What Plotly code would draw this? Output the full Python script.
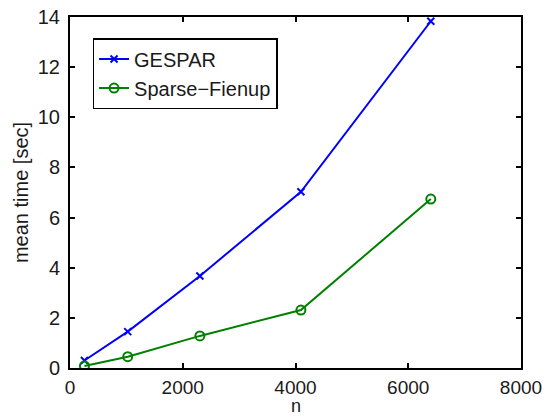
import plotly.graph_objects as go

n_values = [256, 1024, 2304, 4096, 6400]
gespar_time = [0.3, 1.45, 3.67, 7.03, 13.83]
fienup_time = [0.08, 0.45, 1.28, 2.31, 6.74]

font_family = "Liberation Sans, Arial, sans-serif"
txt = "#1a1a1a"

fig = go.Figure()
fig.add_trace(go.Scatter(
    x=n_values, y=gespar_time, mode="lines+markers", name="GESPAR",
    line=dict(color="rgb(0,0,255)", width=2),
    marker=dict(symbol="x-thin-open", size=7, color="rgb(0,0,255)",
                line=dict(color="rgb(0,0,255)", width=2)),
))
fig.add_trace(go.Scatter(
    x=n_values, y=fienup_time, mode="lines+markers", name="Sparse\u2212Fienup",
    line=dict(color="rgb(0,128,0)", width=2),
    marker=dict(symbol="circle-open", size=9, color="rgb(0,128,0)",
                line=dict(color="rgb(0,128,0)", width=2)),
))

axis_common = dict(
    showline=True, linecolor="black", linewidth=2, mirror="ticks",
    ticks="inside", ticklen=5, tickwidth=1.5, tickcolor="black",
    showgrid=False, zeroline=False, automargin=False,
    tickfont=dict(family=font_family, size=20, color=txt),
)

plot_h = 417 - 17 - 49

fig.update_layout(
    width=553, height=417,
    margin=dict(l=70, r=32, t=17, b=49),
    paper_bgcolor="white", plot_bgcolor="white",
    showlegend=True,
    legend=dict(
        x=0.05, y=0.94, xanchor="left", yanchor="top",
        bgcolor="white", bordercolor="black", borderwidth=1.5,
        font=dict(family=font_family, size=20, color=txt),
        tracegroupgap=0, itemwidth=30,
    ),
    xaxis=dict(range=[0, 8000], tickvals=[0, 2000, 4000, 6000, 8000],
               ticklabelstandoff=1,
               **axis_common),
    yaxis=dict(range=[0, 14], tickvals=[0, 2, 4, 6, 8, 10, 12, 14],
               ticklabelstandoff=4,
               title=dict(text="mean time [sec]", font=dict(family=font_family, size=20, color=txt), standoff=4),
               **axis_common),
    annotations=[dict(
        text="n", xref="paper", yref="paper", x=0.5, y=-(406 - 368) / plot_h,
        xanchor="center", yanchor="middle", showarrow=False,
        font=dict(family=font_family, size=18, color=txt),
    )],
)
fig.update_xaxes(tickfont=dict(size=19))

fig.write_html("out.html")
